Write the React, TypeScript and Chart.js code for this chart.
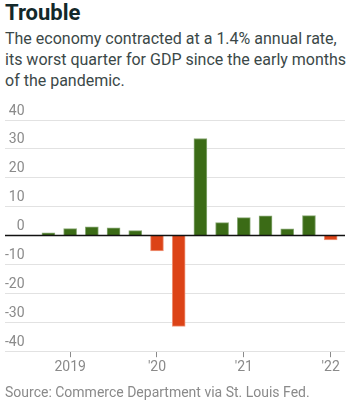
import React, { useEffect, useRef } from "react";
import { Chart, registerables } from "chart.js";

Chart.register(...registerables);

const quarters = [
  "2018 Q4", "2019 Q1", "2019 Q2", "2019 Q3", "2019 Q4",
  "2020 Q1", "2020 Q2", "2020 Q3", "2020 Q4",
  "2021 Q1", "2021 Q2", "2021 Q3", "2021 Q4", "2022 Q1",
];
const growth = [1.0, 2.4, 3.0, 2.7, 1.7, -5.3, -31.4, 33.6, 4.5, 6.2, 6.8, 2.3, 6.9, -1.5];
const yearTicks = [2019, 2020, 2021, 2022];
const yearLabels = ["2019", "'20", "'21", "'22"];
const yTicks = [-40, -30, -20, -10, 0, 10, 20, 30, 40];

const GREEN = "#3b6b16";
const GREEN_EDGE = "#88a874";
const RED = "#dc4317";
const RED_EDGE = "#f09a80";

const FONT = "Roboto, 'Noto Sans', sans-serif";

function quarterToX(q: string): number {
  const [y, qq] = q.split(" Q");
  return Number(y) + (Number(qq) - 1) / 4;
}

export default function App() {
  const ref = useRef<HTMLCanvasElement | null>(null);
  useEffect(() => {
    if (!ref.current) return;
    const zeroLine = {
      id: "zeroLine",
      afterDatasetsDraw(chart: any) {
        const { ctx, chartArea, scales } = chart;
        const y = scales.y.getPixelForValue(0);
        ctx.save();
        ctx.strokeStyle = "#111";
        ctx.lineWidth = 1.5;
        ctx.beginPath();
        ctx.moveTo(chartArea.left, y);
        ctx.lineTo(chartArea.right, y);
        ctx.stroke();
        ctx.restore();
      },
    };
    const chart = new Chart(ref.current, {
      type: "bar",
      data: {
        datasets: [
          {
            data: quarters.map((q, i) => ({ x: quarterToX(q), y: growth[i] })),
            backgroundColor: growth.map((v) => (v >= 0 ? GREEN : RED)),
            borderColor: growth.map((v) => (v >= 0 ? GREEN_EDGE : RED_EDGE)),
            borderWidth: 1,
            barThickness: 13,
          },
        ],
      },
      options: {
        animation: false,
        responsive: false,
        maintainAspectRatio: false,
        layout: { padding: { left: 5, right: 14, top: 25, bottom: 7 } },
        plugins: { legend: { display: false }, tooltip: { enabled: false } },
        scales: {
          x: {
            type: "linear",
            min: 2018.25,
            max: 2022.165,
            offset: false,
            afterBuildTicks: (scale: any) => {
              scale.ticks = yearTicks.map((v) => ({ value: v }));
            },
            grid: {
              offset: false,
              drawOnChartArea: false,
              drawTicks: true,
              tickLength: 6,
              color: "#8a8a8a",
            },
            border: { display: false },
            ticks: {
              autoSkip: false,
              maxRotation: 0,
              padding: 2,
              color: "#8a8a8a",
              font: { family: FONT, size: 14 },
              callback: (v: any) => {
                const i = yearTicks.indexOf(Number(v));
                return i >= 0 ? yearLabels[i] : "";
              },
            },
          },
          y: {
            min: -40,
            max: 40,
            afterBuildTicks: (scale: any) => {
              scale.ticks = yTicks.map((v) => ({ value: v }));
            },
            grid: {
              drawTicks: false,
              color: "#e2e2e2",
              lineWidth: 1,
            },
            border: { display: false },
            ticks: {
              mirror: true,
              crossAlign: "far",
              padding: 0,
              labelOffset: -9,
              color: "#8a8a8a",
              font: { family: FONT, size: 14 },
            },
          },
        },
      },
      plugins: [zeroLine],
    } as any);
    return () => chart.destroy();
  }, []);

  return (
    <div
      style={{
        position: "absolute",
        left: 0,
        top: 0,
        width: 359,
        height: 409,
        background: "#fff",
        fontFamily: FONT,
        overflow: "hidden",
      }}
    >
      <div
        style={{
          position: "absolute",
          left: 5,
          top: 0,
          fontSize: 22,
          fontWeight: 700,
          lineHeight: "26px",
          color: "#13282a",
        }}
      >
        Trouble
      </div>
      <div
        style={{
          position: "absolute",
          left: 5,
          top: 28,
          width: 345,
          fontSize: 16,
          lineHeight: "21px",
          color: "#3b4848",
        }}
      >
        The economy contracted at a 1.4% annual rate, its worst quarter for GDP since the early months of the pandemic.
      </div>
      <canvas
        ref={ref}
        width={359}
        height={290}
        style={{ position: "absolute", left: 0, top: 95, width: 359, height: 290 }}
      />
      <div
        style={{
          position: "absolute",
          left: 5,
          top: 383,
          fontSize: 14,
          lineHeight: "18px",
          color: "#8a8a8a",
        }}
      >
        Source: Commerce Department via St. Louis Fed.
      </div>
    </div>
  );
}
